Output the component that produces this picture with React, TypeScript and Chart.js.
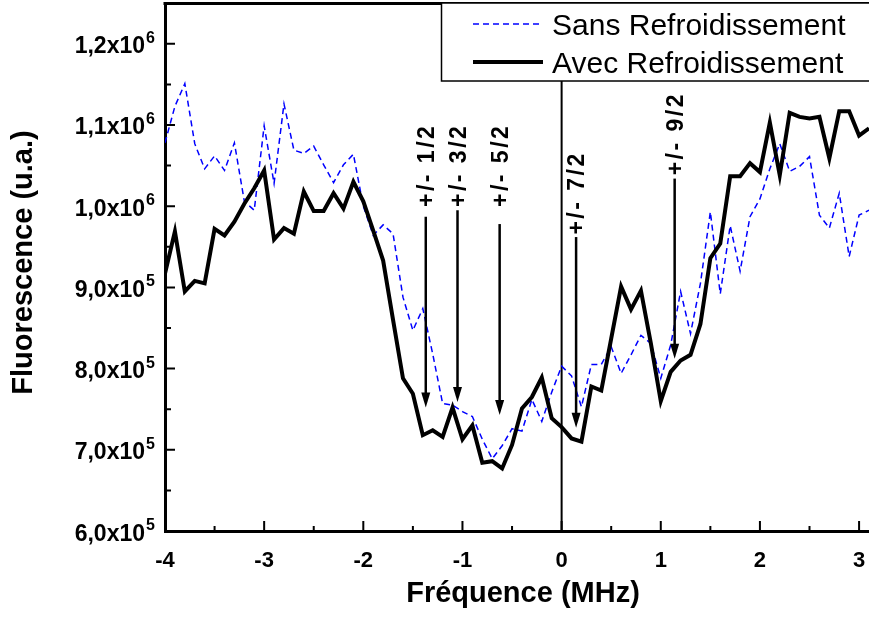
import React, { useEffect, useRef } from "react";
import { Chart, registerables } from "chart.js";

Chart.register(...registerables);

// ---------- data ----------
const frequencyMHz = [
  -4.0, -3.9, -3.8, -3.7, -3.6, -3.5, -3.4, -3.3, -3.2, -3.1,
  -3.0, -2.9, -2.8, -2.7, -2.6, -2.5, -2.4, -2.3, -2.2, -2.1,
  -2.0, -1.9, -1.8, -1.7, -1.6, -1.5, -1.4, -1.3, -1.2, -1.1,
  -1.0, -0.9, -0.8, -0.7, -0.6, -0.5, -0.4, -0.3, -0.2, -0.1,
  0.0, 0.1, 0.2, 0.3, 0.4, 0.5, 0.6, 0.7, 0.8, 0.9,
  1.0, 1.1, 1.2, 1.3, 1.4, 1.5, 1.6, 1.7, 1.8, 1.9,
  2.0, 2.1, 2.2, 2.3, 2.4, 2.5, 2.6, 2.7, 2.8, 2.9,
  3.0, 3.1,
];

const sansRefroidissement = [
  10.78e5, 11.23e5, 11.51e5, 10.77e5, 10.46e5, 10.62e5, 10.44e5, 10.78e5, 10.06e5, 9.95e5,
  10.99e5, 10.28e5, 11.26e5, 10.69e5, 10.65e5, 10.74e5, 10.51e5, 10.29e5, 10.51e5, 10.64e5,
  10.0e5, 9.64e5, 9.77e5, 9.66e5, 8.88e5, 8.47e5, 8.74e5, 8.18e5, 7.57e5, 7.55e5,
  7.47e5, 7.41e5, 7.13e5, 6.89e5, 7.05e5, 7.26e5, 7.23e5, 7.62e5, 7.35e5, 7.71e5,
  8.03e5, 7.91e5, 7.53e5, 8.05e5, 8.05e5, 8.27e5, 7.94e5, 8.17e5, 8.41e5, 8.31e5,
  7.88e5, 8.29e5, 8.95e5, 8.43e5, 9.05e5, 9.93e5, 8.92e5, 9.76e5, 9.2e5, 9.87e5,
  10.09e5, 10.46e5, 10.77e5, 10.43e5, 10.49e5, 10.61e5, 9.89e5, 9.73e5, 10.16e5, 9.38e5,
  9.89e5, 9.95e5,
];

const avecRefroidissement = [
  9.17e5, 9.69e5, 8.95e5, 9.08e5, 9.05e5, 9.72e5, 9.64e5, 9.81e5, 10.03e5, 10.22e5,
  10.44e5, 9.59e5, 9.73e5, 9.66e5, 10.18e5, 9.94e5, 9.94e5, 10.16e5, 9.97e5, 10.3e5,
  10.06e5, 9.7e5, 9.33e5, 8.6e5, 7.88e5, 7.69e5, 7.18e5, 7.24e5, 7.16e5, 7.52e5,
  7.13e5, 7.3e5, 6.84e5, 6.86e5, 6.77e5, 7.06e5, 7.51e5, 7.65e5, 7.89e5, 7.39e5,
  7.28e5, 7.14e5, 7.1e5, 7.78e5, 7.73e5, 8.37e5, 9.01e5, 8.73e5, 8.96e5, 8.31e5,
  7.6e5, 7.96e5, 8.1e5, 8.17e5, 8.55e5, 9.36e5, 9.54e5, 10.37e5, 10.37e5, 10.53e5,
  10.42e5, 11.03e5, 10.38e5, 11.15e5, 11.1e5, 11.08e5, 11.1e5, 10.59e5, 11.17e5, 11.17e5,
  10.87e5, 10.96e5,
];

const seriesLabels = ["Sans Refroidissement", "Avec Refroidissement"];

// axis ticks
const xTickValues = [-4, -3, -2, -1, 0, 1, 2, 3];
const yTickValues = [6e5, 7e5, 8e5, 9e5, 10e5, 11e5, 12e5];

// annotation arrows (transitions), in data units
const arrowLabels = ["+/- 1/2", "+/- 3/2", "+/- 5/2", "+/- 7/2", "+/- 9/2"];
const arrowFreq = [-1.37, -1.05, -0.625, 0.146, 1.14];
const arrowTip = [7.52e5, 7.59e5, 7.43e5, 7.27e5, 8.12e5];
const arrowTail = [9.87e5, 9.95e5, 9.78e5, 9.62e5, 10.34e5];
const arrowLabelStart = [9.99e5, 9.99e5, 9.99e5, 9.65e5, 10.38e5];

const xTitle = "Fréquence (MHz)";
const yTitle = "Fluorescence (u.a.)";

const FONT = '"Liberation Sans", Arial, Helvetica, sans-serif';

function sciParts(v: number): [string, string] {
  const e = Math.floor(Math.log10(v) + 1e-9);
  const m = v / Math.pow(10, e);
  return [m.toFixed(1).replace(".", ",") + "x10", String(e)];
}

const decorPlugin = {
  id: "decor",
  beforeDatasetsDraw(chart: any) {
    const { ctx, chartArea, scales } = chart;
    const x = scales.x;
    const x0 = x.getPixelForValue(0);
    ctx.save();
    ctx.strokeStyle = "#000";
    ctx.lineWidth = 2;
    ctx.beginPath();
    ctx.moveTo(x0, chartArea.top);
    ctx.lineTo(x0, chartArea.bottom);
    ctx.stroke();
    ctx.restore();
  },
  afterDraw(chart: any) {
    const { ctx, chartArea, scales } = chart;
    const x = scales.x;
    const y = scales.y;
    ctx.save();
    ctx.strokeStyle = "#000";
    ctx.fillStyle = "#000";

    // top frame line
    ctx.lineWidth = 3;
    ctx.beginPath();
    ctx.moveTo(chartArea.left - 1.5, chartArea.top - 0.5);
    ctx.lineTo(chartArea.right + 2, chartArea.top - 0.5);
    ctx.stroke();

    // ticks (major + minor), inward
    ctx.lineWidth = 2;
    const xt = x.ticks.map((t: any) => t.value);
    const xStep = xt.length > 1 ? xt[1] - xt[0] : 1;
    ctx.beginPath();
    xt.forEach((v: number) => {
      const p = x.getPixelForValue(v);
      ctx.moveTo(p, chartArea.bottom);
      ctx.lineTo(p, chartArea.bottom - 10);
      const m = v + xStep / 2;
      if (m <= x.max) {
        const pm = x.getPixelForValue(m);
        ctx.moveTo(pm, chartArea.bottom);
        ctx.lineTo(pm, chartArea.bottom - 5);
      }
    });
    const yt = y.ticks.map((t: any) => t.value);
    const yStep = yt.length > 1 ? yt[1] - yt[0] : 1e5;
    yt.forEach((v: number) => {
      const p = y.getPixelForValue(v);
      ctx.moveTo(chartArea.left, p);
      ctx.lineTo(chartArea.left + 10, p);
      const m = v + yStep / 2;
      if (m <= y.max) {
        const pm = y.getPixelForValue(m);
        ctx.moveTo(chartArea.left, pm);
        ctx.lineTo(chartArea.left + 6, pm);
      }
    });
    ctx.stroke();

    // x tick labels
    ctx.font = `bold 22px ${FONT}`;
    ctx.textAlign = "center";
    ctx.textBaseline = "alphabetic";
    xt.forEach((v: number) => {
      ctx.fillText(String(Math.round(v)), x.getPixelForValue(v), chartArea.bottom + 36);
    });

    // y tick labels with superscript exponent
    yt.forEach((v: number) => {
      const p = y.getPixelForValue(v);
      const [main, exp] = sciParts(v);
      ctx.font = `bold 23px ${FONT}`;
      ctx.textAlign = "right";
      ctx.fillText(main, chartArea.left - 20, p + 9.5);
      ctx.font = `bold 16px ${FONT}`;
      ctx.textAlign = "left";
      ctx.fillText(exp, chartArea.left - 19, p - 1);
    });

    // axis titles
    ctx.font = `bold 29px ${FONT}`;
    ctx.textAlign = "center";
    ctx.fillText(xTitle, 523, 601.5);
    ctx.save();
    ctx.translate(32, (chartArea.top + chartArea.bottom) / 2 - 5);
    ctx.rotate(-Math.PI / 2);
    ctx.fillText(yTitle, 0, 0);
    ctx.restore();

    // arrows
    arrowFreq.forEach((f, i) => {
      const px = x.getPixelForValue(f);
      const tip = y.getPixelForValue(arrowTip[i]);
      const tail = y.getPixelForValue(arrowTail[i]);
      const head = 15;
      ctx.lineWidth = 2.5;
      ctx.beginPath();
      ctx.moveTo(px, tail);
      ctx.lineTo(px, tip - head + 2);
      ctx.stroke();
      ctx.beginPath();
      ctx.moveTo(px - 4.5, tip - head);
      ctx.lineTo(px + 4.5, tip - head);
      ctx.lineTo(px, tip);
      ctx.closePath();
      ctx.fill();
      const ls = y.getPixelForValue(arrowLabelStart[i]);
      ctx.save();
      ctx.translate(px + 8, ls);
      ctx.rotate(-Math.PI / 2);
      ctx.font = `bold 23px ${FONT}`;
      (ctx as any).letterSpacing = "2.5px";
      ctx.textAlign = "left";
      ctx.fillText(arrowLabels[i], 0, 0);
      ctx.restore();
    });

    // legend
    const ds = chart.data.datasets;
    ctx.fillStyle = "#fff";
    ctx.fillRect(441, 3, 440, 78);
    ctx.lineWidth = 1.5;
    ctx.strokeStyle = "#000";
    ctx.strokeRect(441.5, 3, 440, 78);
    const rows = [24, 62];
    ds.forEach((d: any, i: number) => {
      ctx.save();
      ctx.strokeStyle = d.borderColor;
      ctx.lineWidth = d.borderWidth;
      ctx.setLineDash(d.borderDash || []);
      ctx.beginPath();
      ctx.moveTo(473, rows[i]);
      ctx.lineTo(543, rows[i]);
      ctx.stroke();
      ctx.restore();
      ctx.fillStyle = "#000";
      ctx.font = `30px ${FONT}`;
      ctx.textAlign = "left";
      ctx.fillText(d.label, 552, rows[i] + 10.5);
    });

    ctx.restore();
  },
};

export default function App() {
  const ref = useRef<HTMLCanvasElement | null>(null);

  useEffect(() => {
    if (!ref.current) return;
    const chart = new Chart(ref.current, {
      type: "line",
      data: {
        datasets: [
          {
            label: seriesLabels[0],
            data: frequencyMHz.map((f, i) => ({ x: f, y: sansRefroidissement[i] })),
            borderColor: "#0000ff",
            borderWidth: 1.5,
            borderDash: [6, 4],
            pointRadius: 0,
            fill: false,
            tension: 0,
            order: 1,
          },
          {
            label: seriesLabels[1],
            data: frequencyMHz.map((f, i) => ({ x: f, y: avecRefroidissement[i] })),
            borderColor: "#000000",
            borderWidth: 4,
            pointRadius: 0,
            fill: false,
            tension: 0,
            order: 0,
          },
        ],
      },
      options: {
        animation: false,
        responsive: false,
        layout: { padding: { top: 4, left: 0, right: 0, bottom: 0 } },
        plugins: { legend: { display: false }, tooltip: { enabled: false } },
        scales: {
          x: {
            type: "linear",
            min: -4,
            max: 3.1,
            ticks: { display: false },
            grid: { display: false },
            border: { display: true, width: 3, color: "#000" },
            afterBuildTicks: (s: any) => {
              s.ticks = xTickValues.map((v) => ({ value: v }));
            },
            afterFit: (s: any) => {
              s.height = 92;
            },
          },
          y: {
            type: "linear",
            min: 6e5,
            max: 12.49e5,
            ticks: { display: false },
            grid: { display: false },
            border: { display: true, width: 3, color: "#000" },
            afterBuildTicks: (s: any) => {
              s.ticks = yTickValues.map((v) => ({ value: v }));
            },
            afterFit: (s: any) => {
              s.width = 165;
            },
          },
        },
      } as any,
      plugins: [decorPlugin],
    });
    return () => chart.destroy();
  }, []);

  return (
    <div style={{ position: "fixed", left: 0, top: 0, width: 869, height: 623, background: "#fff" }}>
      <canvas ref={ref} width={869} height={623} style={{ display: "block" }} />
    </div>
  );
}
